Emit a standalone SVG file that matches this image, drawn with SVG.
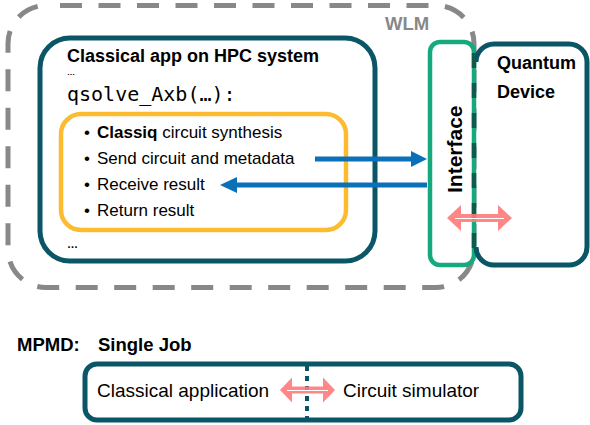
<svg xmlns="http://www.w3.org/2000/svg" width="590" height="425" viewBox="0 0 590 425">
<defs>
<style>
.sans{font-family:"Liberation Sans",Arial,sans-serif;fill:#000}
.b{font-weight:bold}
.box{fill:#fff;stroke:#0b5666;stroke-width:5}
.blue{stroke:#0a70b8;stroke-width:5;fill:none}
.bluehead{fill:#0a70b8}
.pink{fill:#ff7a7a;fill-opacity:0.9}
</style>
</defs>
<rect width="590" height="425" fill="#fff"/>
<g id="wlm">
<rect x="8" y="5.5" width="466" height="282" rx="38" fill="none" stroke="#888" stroke-width="5" stroke-dasharray="22 16.5" stroke-dashoffset="-14"/>
<text x="385" y="30" class="sans b" font-size="18.5" style="fill:#888">WLM</text>
</g>
<g id="classical-app">
<rect x="40" y="38" width="335" height="223" rx="30" class="box"/>
<text x="67" y="62" class="sans b" font-size="18">Classical app on HPC system</text>
<text x="67" y="75" class="sans b" font-size="8">…</text>
<text x="67" y="101" font-family="'DejaVu Sans Mono','Liberation Mono',monospace" font-size="20">qsolve_Axb(…):</text>
<text x="67" y="248" class="sans b" font-size="11">…</text>
</g>
<g id="classiq-steps">
<rect x="61" y="114" width="285" height="116" rx="20" fill="none" stroke="#fdbb30" stroke-width="4.5"/>
<g class="sans" font-size="17">
<text x="84" y="138">•</text><text x="97" y="138"><tspan class="b">Classiq</tspan> circuit synthesis</text>
<text x="84" y="164">•</text><text x="97" y="164">Send circuit and metadata</text>
<text x="84" y="190">•</text><text x="97" y="190">Receive result</text>
<text x="84" y="216">•</text><text x="97" y="216">Return result</text>
</g>
</g>
<g id="interface">
<rect x="430" y="42" width="44" height="223" rx="10" fill="#fff" stroke="#17a97e" stroke-width="4.5"/>
<text transform="translate(462,193) rotate(-90)" class="sans b" font-size="21">Interface</text>
</g>
<g id="quantum-device">
<path d="M476,62 A18,18 0 0 1 494,44 H569 A18,18 0 0 1 587,62 V247 A18,18 0 0 1 569,265 H494 A18,18 0 0 1 476,247" fill="none" stroke="#0b5666" stroke-width="5"/>
<text x="497" y="69" class="sans b" font-size="18">Quantum</text>
<text x="497" y="98" class="sans b" font-size="18">Device</text>
</g>
<g id="connectors">
<line x1="474" y1="53" x2="474" y2="258" stroke="#0f5a4c" stroke-width="4.5" stroke-dasharray="15 15"/>
<line x1="315" y1="159" x2="413" y2="159" class="blue"/>
<polygon points="411,151 427,159 411,167" class="bluehead"/>
<line x1="427" y1="185" x2="235" y2="185" class="blue"/>
<polygon points="237,177 220,185 237,193" class="bluehead"/>
<path d="M447,218 L461,205 L461,214 L498,214 L498,205 L512,218 L498,231 L498,222 L461,222 L461,231 Z" class="pink"/>
<line x1="455" y1="218.5" x2="504" y2="218.5" stroke="#fff" stroke-width="1"/>
</g>
<g id="mpmd-label">
<text x="17" y="351" class="sans b" font-size="18.5">MPMD:</text>
<text x="98" y="351" class="sans b" font-size="18.5">Single Job</text>
</g>
<g id="single-job">
<rect x="85" y="364" width="436" height="56" rx="12" class="box"/>
<line x1="307" y1="366" x2="307" y2="420" stroke="#0b5666" stroke-width="4" stroke-dasharray="5 5"/>
<text x="97" y="397" class="sans" font-size="19">Classical application</text>
<text x="343" y="397" class="sans" font-size="19">Circuit simulator</text>
<path d="M280,390 L292,377.5 L292,386.5 L323,386.5 L323,377.5 L335,390 L323,402.5 L323,393.5 L292,393.5 L292,402.5 Z" class="pink"/>
<line x1="287" y1="390.5" x2="328" y2="390.5" stroke="#fff" stroke-width="1"/>
</g>
</svg>
